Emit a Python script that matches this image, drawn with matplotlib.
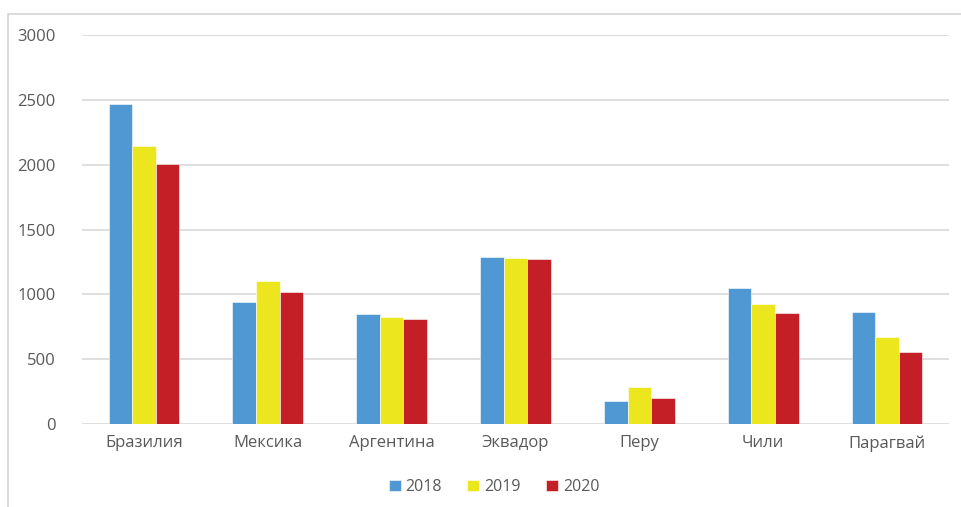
import matplotlib.pyplot as plt
from matplotlib.patches import Rectangle
import numpy as np

categories = ["Бразилия", "Мексика", "Аргентина", "Эквадор", "Перу", "Чили", "Парагвай"]
years = ["2018", "2019", "2020"]
v2018 = [2465, 938, 845, 1290, 176, 1050, 865]
v2019 = [2145, 1105, 822, 1280, 282, 925, 670]
v2020 = [2005, 1015, 810, 1270, 202, 855, 557]
colors = ["#4f98d3", "#ebe61e", "#c41f26"]

plt.rcParams['font.family'] = ['Open Sans', 'DejaVu Sans']
txt = "#595959"

fig = plt.figure(figsize=(9.61, 5.07), dpi=100)
# chart frame (top and left edges visible)
fig.patches.append(Rectangle((8 / 961, -0.05), 1.1, 1 - 14 / 507 + 0.05,
                             transform=fig.transFigure, fill=False,
                             edgecolor="#d4d4d4", linewidth=1.2))

ax = fig.add_axes([82 / 961, 1 - 424 / 507, (949 - 82) / 961, (424 - 35) / 507])

x = np.arange(len(categories))
w = 0.19
for i, (vals, yr) in enumerate(zip([v2018, v2019, v2020], years)):
    ax.bar(x + (i - 1) * w, vals, w, color=colors[i], label=yr,
           edgecolor="white", linewidth=0.4, zorder=3)

ax.set_xlim(-0.5, len(categories) - 0.5)
ax.set_ylim(0, 3000)
ax.set_yticks(range(0, 3001, 500))
ax.set_xticks(x)
ax.set_xticklabels(categories)
ax.grid(axis="y", color="#d9d9d9", linewidth=1.2, zorder=0)
for s in ax.spines.values():
    s.set_visible(False)
ax.tick_params(length=0, colors=txt, labelsize=12)
ax.tick_params(axis="y", pad=19)
ax.tick_params(axis="x", pad=8)
for lab in ax.get_yticklabels():
    lab.set_horizontalalignment("right")

ax.legend(loc="center", bbox_to_anchor=(494 / 961, 1 - 487 / 507),
          bbox_transform=fig.transFigure, ncol=3, frameon=False,
          fontsize=11.5, labelcolor=txt, handlelength=0.75, handleheight=0.75,
          handletextpad=0.3, columnspacing=1.6)

plt.savefig("out.png", dpi=100)
